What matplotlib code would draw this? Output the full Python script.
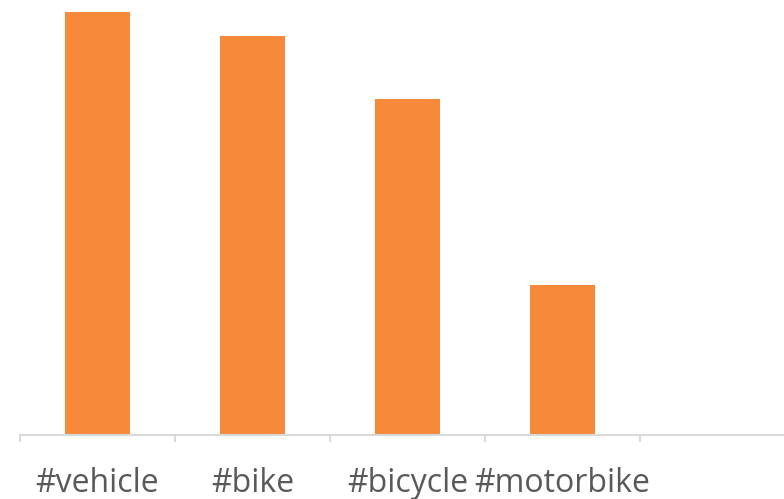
import matplotlib
matplotlib.use("Agg")
import matplotlib.pyplot as plt

categories = ["#vehicle", "#bike", "#bicycle", "#motorbike", ""]
values = [423, 399, 336, 150, 0]

fig = plt.figure(figsize=(7.84, 4.99), dpi=100)
ax = fig.add_axes([20/784, 64/499, 764/784, 435/499])

x = list(range(len(categories)))
ax.bar(x[:4], values[:4], width=0.42, color="#F7893B")
ax.set_xlim(-0.5, -0.5 + 764/155)
ax.set_ylim(0, 435)

for s in ["top", "right", "left"]:
    ax.spines[s].set_visible(False)
ax.spines["bottom"].set_color("#d9d9d9")
ax.spines["bottom"].set_linewidth(1.5)
ax.set_yticks([])

ax.set_xticks([i - 0.5 for i in range(5)])
ax.set_xticklabels([])
ax.tick_params(axis="x", which="major", length=5, width=1.5, color="#d9d9d9")
ax.set_xticks(x[:4], minor=True)
ax.set_xticklabels(categories[:4], minor=True, fontsize=23, color="#595959", family="Open Sans")
ax.tick_params(axis="x", which="minor", length=0, pad=23)

fig.savefig("out.png", dpi=100)
